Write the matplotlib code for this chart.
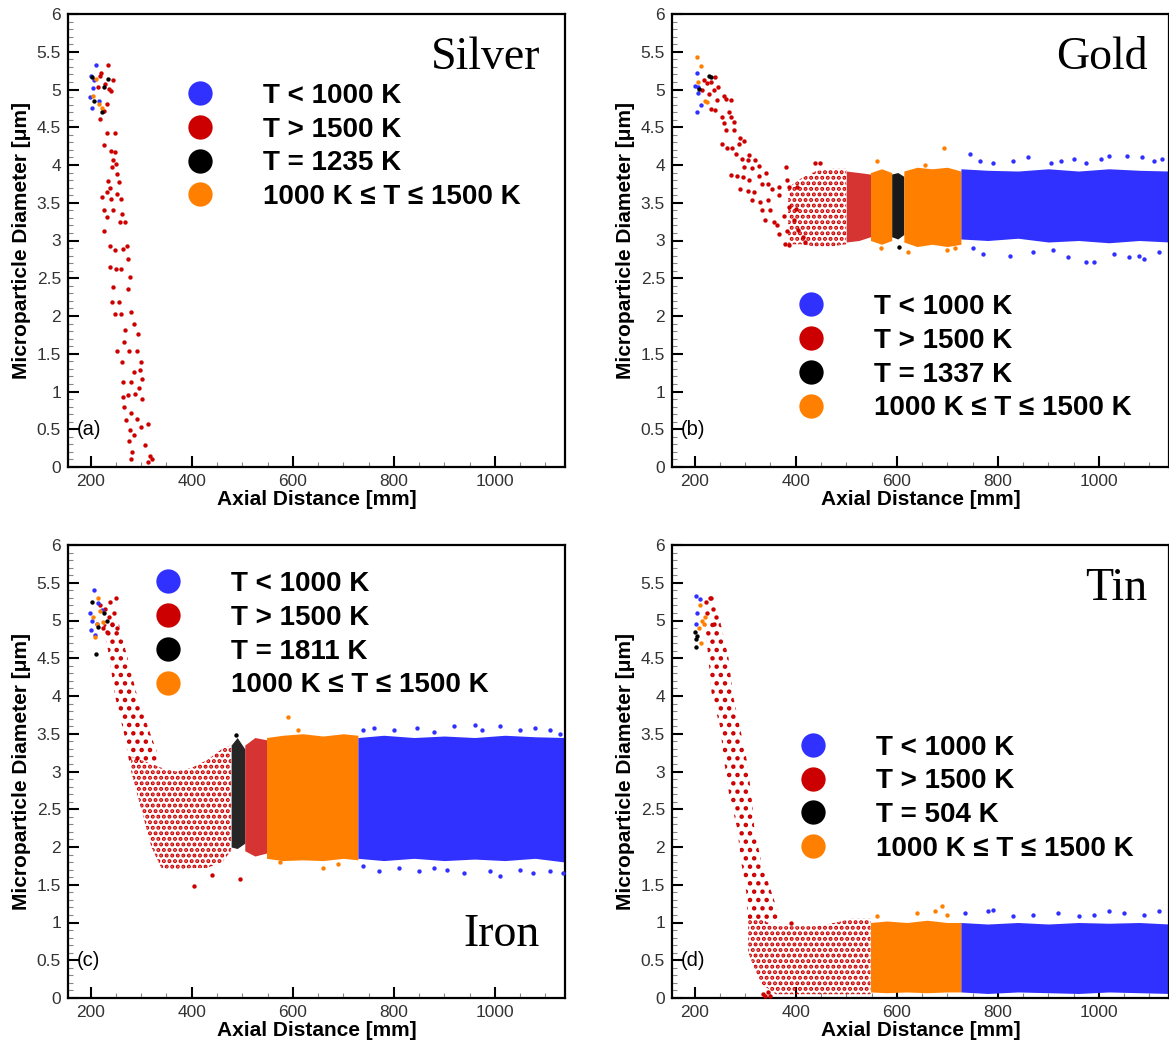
import numpy as np
import matplotlib
matplotlib.use("Agg")
import matplotlib.pyplot as plt
from matplotlib.lines import Line2D
from matplotlib.ticker import MultipleLocator, FuncFormatter

plt.rcParams['font.family'] = ['Liberation Sans', 'DejaVu Sans']
plt.rcParams['hatch.linewidth'] = 2.0

BLUE, RED, BLACK, ORANGE = '#3030ff', '#cc0000', '#000000', '#ff8000'

# ---------------- Silver (a) ----------------
SILVER_BLUE_X = [200, 211, 198, 202, 207, 204, 216]
SILVER_BLUE_Y = [5.18, 5.33, 4.90, 4.76, 5.12, 5.02, 4.85]
SILVER_BLACK_X = [202, 222, 235, 227, 207]
SILVER_BLACK_Y = [5.16, 4.70, 5.14, 5.03, 4.85]
SILVER_ORANGE_X = [211, 204, 216, 222]
SILVER_ORANGE_Y = [5.14, 4.92, 4.81, 4.76]
SILVER_RED_X = [218, 237, 226, 218, 235, 240, 233, 215, 228, 244, 221,
                232, 248, 227, 241, 248, 244, 250, 242, 252, 235,
                239, 256, 233, 252, 240, 259, 222, 226, 244, 262,
                232, 257, 268, 226, 239, 272, 249, 264, 238, 250,
                260, 274, 277, 244, 274, 243, 255, 248, 259, 279,
                268, 285, 294, 252, 266, 275, 292, 262, 299, 285,
                297, 263, 279, 301, 296, 263, 274, 288, 302, 266,
                279, 270, 292, 314, 299, 277, 286, 276, 307, 281,
                279, 318, 321, 314]
SILVER_RED_Y = [5.18, 5.01, 4.72, 4.61, 5.32, 4.98, 4.81, 5.03, 5.07, 5.12, 5.22,
                4.43, 4.43, 4.26, 4.19, 4.17, 4.06, 4.01, 3.97, 3.88, 3.79,
                3.70, 3.77, 3.64, 3.62, 3.55, 3.55, 3.57, 3.40, 3.40, 3.35,
                3.31, 3.24, 3.24, 3.13, 2.93, 2.93, 2.87, 2.89, 2.65, 2.62,
                2.62, 2.76, 2.51, 2.38, 2.36, 2.18, 2.18, 2.03, 2.03, 2.05,
                1.81, 1.90, 1.76, 1.54, 1.65, 1.54, 1.54, 1.39, 1.39, 1.26,
                1.28, 1.12, 1.12, 1.17, 1.04, 0.93, 0.95, 0.97, 0.90, 0.79,
                0.71, 0.62, 0.64, 0.57, 0.53, 0.49, 0.42, 0.35, 0.29, 0.20,
                0.11, 0.15, 0.11, 0.07]

# ---------------- Gold (b) ----------------
GOLD_BLUE_PTS_X = [204, 201, 206, 206, 213, 204,
                   745, 765, 790, 830, 860, 905, 925, 950, 975, 1005, 1020, 1055, 1085, 1110, 1125,
                   750, 770, 825, 870, 910, 940, 975, 990, 1030, 1060, 1080, 1090, 1120]
GOLD_BLUE_PTS_Y = [5.22, 5.05, 5.03, 4.95, 4.80, 4.70,
                   4.15, 4.05, 4.02, 4.05, 4.10, 4.02, 4.05, 4.08, 4.02, 4.08, 4.12, 4.12, 4.10, 4.05, 4.08,
                   2.90, 2.82, 2.80, 2.85, 2.88, 2.78, 2.72, 2.72, 2.82, 2.78, 2.80, 2.75, 2.85]
GOLD_ORANGE_PTS_X = [204, 213, 206, 221, 224, 560, 568, 655, 693, 622, 700, 715]
GOLD_ORANGE_PTS_Y = [5.43, 5.31, 5.10, 4.85, 4.83, 4.05, 2.90, 4.00, 4.22, 2.85, 2.88, 2.90]
GOLD_BLACK_PTS_X = [228, 233, 209, 605]
GOLD_BLACK_PTS_Y = [5.18, 5.17, 5.01, 2.92]
GOLD_RED_X = [218, 224, 233, 240, 214, 228, 238, 247, 257, 244,
              233, 241, 261, 271, 267, 254, 271, 277, 257, 261,
              277, 290, 297, 254, 264, 274, 287, 282, 307, 294,
              306, 320, 297, 313, 328, 342, 271, 284, 295, 308,
              328, 333, 346, 290, 306, 317, 353, 366, 381, 366,
              313, 330, 345, 350, 333, 383, 386, 340, 356, 363,
              376, 386, 366, 383, 379, 386, 396, 405, 401, 414,
              419, 403, 439, 449]
GOLD_RED_Y = [5.12, 5.08, 5.10, 5.16, 4.99, 4.94, 4.99, 5.03, 4.92, 4.86,
              4.74, 4.73, 4.88, 4.86, 4.70, 4.63, 4.63, 4.57, 4.56, 4.46,
              4.47, 4.36, 4.32, 4.28, 4.22, 4.22, 4.28, 4.15, 4.13, 4.08,
              4.06, 4.07, 3.97, 3.96, 3.99, 3.89, 3.87, 3.85, 3.84, 3.80,
              3.86, 3.75, 3.75, 3.68, 3.66, 3.64, 3.68, 3.71, 3.98, 3.60,
              3.54, 3.51, 3.53, 3.40, 3.40, 3.80, 3.71, 3.27, 3.24, 3.20,
              3.32, 3.44, 3.09, 3.13, 2.95, 2.94, 3.27, 3.14, 3.42, 3.05,
              2.98, 3.71, 4.03, 4.03]
GOLD_RED_CLOUD_X = [385, 410, 440, 470, 500]
GOLD_RED_CLOUD_LO = [2.95, 2.95, 2.92, 2.92, 2.95]
GOLD_RED_CLOUD_HI = [3.70, 3.82, 3.92, 3.95, 3.95]
GOLD_RED_DENSE_X = [500, 525, 548]
GOLD_RED_DENSE_LO = [2.98, 3.00, 3.05]
GOLD_RED_DENSE_HI = [3.92, 3.90, 3.88]
GOLD_ORANGE1_X = [548, 570, 590]
GOLD_ORANGE1_LO = [3.00, 2.95, 3.00]
GOLD_ORANGE1_HI = [3.90, 3.95, 3.90]
GOLD_BLACK_X = [590, 602, 614]
GOLD_BLACK_LO = [3.05, 3.02, 3.08]
GOLD_BLACK_HI = [3.88, 3.90, 3.85]
GOLD_ORANGE2_X = [614, 640, 670, 700, 727]
GOLD_ORANGE2_LO = [2.98, 2.92, 2.95, 2.92, 2.95]
GOLD_ORANGE2_HI = [3.92, 3.97, 3.95, 3.97, 3.92]
GOLD_BLUE_X = [727, 780, 840, 900, 960, 1020, 1080, 1140]
GOLD_BLUE_LO = [3.02, 3.00, 3.03, 2.98, 3.00, 2.97, 3.00, 2.98]
GOLD_BLUE_HI = [3.95, 3.93, 3.92, 3.95, 3.92, 3.95, 3.93, 3.92]

# ---------------- Iron (c) ----------------
IRON_BLUE_PTS_X = [207, 203, 200, 209, 222, 215, 198, 212,
                   740, 760, 800, 845, 880, 920, 960, 975, 1010, 1050, 1080, 1110, 1130,
                   740, 770, 810, 850, 880, 905, 940, 990, 1010, 1050, 1075, 1110, 1135]
IRON_BLUE_PTS_Y = [5.40, 5.00, 4.87, 4.81, 5.14, 5.23, 5.10, 4.95,
                   3.55, 3.58, 3.55, 3.58, 3.52, 3.60, 3.62, 3.55, 3.60, 3.55, 3.57, 3.55, 3.50,
                   1.75, 1.68, 1.72, 1.68, 1.72, 1.70, 1.65, 1.68, 1.62, 1.70, 1.66, 1.68, 1.65]
IRON_ORANGE_PTS_X = [205, 212, 218, 208, 225, 214, 590, 660, 575, 610, 690]
IRON_ORANGE_PTS_Y = [5.05, 4.95, 5.12, 4.78, 4.98, 5.30, 3.72, 1.72, 1.80, 3.55, 1.78]
IRON_BLACK_PTS_X = [203, 226, 232, 214, 210, 488]
IRON_BLACK_PTS_Y = [5.25, 5.10, 5.00, 4.92, 4.55, 3.48]
IRON_RED_PTS_X = [218, 228, 236, 242, 232, 224, 246, 250, 238, 252, 405, 495, 441]
IRON_RED_PTS_Y = [5.20, 5.15, 5.05, 4.95, 4.85, 4.90, 5.10, 5.30, 5.25, 4.90, 1.48, 1.57, 1.63]
IRON_DESC_Y = [4.95, 4.50, 4.00, 3.50, 3.10]
IRON_DESC_XL = [225, 237, 248, 266, 277]
IRON_DESC_XR = [256, 273, 292, 318, 340]
IRON_RED_CLOUD_X = [280, 300, 320, 340, 370, 400, 430, 460, 478]
IRON_RED_CLOUD_LO = [3.00, 2.50, 2.00, 1.72, 1.70, 1.72, 1.72, 1.80, 1.95]
IRON_RED_CLOUD_HI = [3.20, 3.15, 3.10, 3.05, 3.00, 3.05, 3.15, 3.30, 3.35]
IRON_BLACK_X = [478, 490, 505]
IRON_BLACK_LO = [2.00, 1.98, 2.05]
IRON_BLACK_HI = [3.35, 3.45, 3.30]
IRON_RED_DENSE_X = [505, 525, 548]
IRON_RED_DENSE_LO = [1.95, 1.88, 1.92]
IRON_RED_DENSE_HI = [3.35, 3.45, 3.42]
IRON_ORANGE_X = [548, 580, 620, 660, 700, 729]
IRON_ORANGE_LO = [1.85, 1.82, 1.83, 1.82, 1.85, 1.83]
IRON_ORANGE_HI = [3.45, 3.48, 3.50, 3.47, 3.50, 3.48]
IRON_BLUE_X = [729, 780, 840, 900, 960, 1020, 1080, 1140]
IRON_BLUE_LO = [1.85, 1.82, 1.85, 1.82, 1.84, 1.82, 1.85, 1.80]
IRON_BLUE_HI = [3.45, 3.48, 3.45, 3.47, 3.45, 3.48, 3.46, 3.45]

# ---------------- Tin (d) ----------------
TIN_BLUE_PTS_X = [202, 205, 210, 203,
                  735, 780, 790, 830, 870, 920, 960, 990, 1020, 1050, 1090, 1120]
TIN_BLUE_PTS_Y = [5.33, 5.10, 5.28, 4.95,
                  1.12, 1.15, 1.17, 1.08, 1.10, 1.12, 1.08, 1.10, 1.15, 1.12, 1.10, 1.15]
TIN_ORANGE_PTS_X = [210, 215, 220, 208, 218, 212, 560, 640, 690, 700, 675]
TIN_ORANGE_PTS_Y = [5.20, 5.00, 5.05, 4.90, 4.95, 4.70, 1.08, 1.12, 1.22, 1.10, 1.15]
TIN_BLACK_PTS_X = [201, 202, 203, 205]
TIN_BLACK_PTS_Y = [4.85, 4.75, 4.65, 4.80]
TIN_RED_PTS_X = [222, 230, 236, 242, 225, 238, 232, 340, 345, 350, 335, 390]
TIN_RED_PTS_Y = [5.25, 5.30, 5.15, 5.05, 5.10, 4.95, 5.30, 0.03, 0.08, 0.02, 0.05, 1.00]
TIN_DESC_Y = [5.00, 4.50, 4.00, 3.60, 3.15, 2.70, 2.25, 1.80, 1.40, 1.00]
TIN_DESC_XL = [220, 227, 234, 250, 258, 268, 284, 292, 302, 306]
TIN_DESC_XR = [250, 267, 276, 289, 303, 312, 318, 332, 352, 372]
TIN_RED_CLOUD_X = [306, 330, 360, 400, 440, 480, 510, 548]
TIN_RED_CLOUD_LO = [0.60, 0.20, 0.05, 0.05, 0.05, 0.05, 0.05, 0.05]
TIN_RED_CLOUD_HI = [1.05, 1.05, 0.95, 0.95, 0.95, 1.00, 1.05, 1.05]
TIN_ORANGE_X = [548, 580, 620, 660, 700, 727]
TIN_ORANGE_LO = [0.08, 0.07, 0.08, 0.07, 0.08, 0.08]
TIN_ORANGE_HI = [1.00, 1.02, 1.00, 1.03, 1.00, 1.00]
TIN_BLUE_X = [727, 780, 840, 900, 960, 1020, 1080, 1140]
TIN_BLUE_LO = [0.08, 0.06, 0.08, 0.07, 0.06, 0.08, 0.07, 0.06]
TIN_BLUE_HI = [1.00, 0.98, 1.00, 0.98, 1.00, 0.99, 1.00, 0.98]

LEGEND_COMMON = ['T < 1000 K', 'T > 1500 K', None, '1000 K \u2264 T \u2264 1500 K']
MELT_LABELS = {'a': 'T = 1235 K', 'b': 'T = 1337 K', 'c': 'T = 1811 K', 'd': 'T = 504 K'}

W, H = 1169, 1045


def rect(l, t, r, b):
    return [l / W, 1 - b / H, (r - l) / W, (b - t) / H]


def dots(ax, x, y, color):
    ax.scatter(x, y, s=10, color=color, linewidths=0, zorder=3)


def cloud(ax, x, lo, hi, color, hatch=None, alpha=1.0):
    if hatch is None:
        ax.fill_between(x, lo, hi, color=color, alpha=alpha, lw=0, zorder=2)
    else:
        ax.fill_between(x, lo, hi, facecolor='none', edgecolor=color, hatch=hatch, lw=0, zorder=2)


def band(ax, y, xl, xr, color, hatch):
    ax.fill_betweenx(y, xl, xr, facecolor='none', edgecolor=color, hatch=hatch, lw=0, zorder=2)


def setup(ax, tag, name, name_pos):
    ax.set_xlim(155, 1139)
    ax.set_ylim(0, 6)
    ax.xaxis.set_major_locator(MultipleLocator(200))
    ax.xaxis.set_minor_locator(MultipleLocator(50))
    ax.yaxis.set_major_locator(MultipleLocator(0.5))
    ax.yaxis.set_minor_locator(MultipleLocator(0.1))
    ax.yaxis.set_major_formatter(FuncFormatter(lambda v, p: f"{v:g}"))
    ax.tick_params(which='both', direction='in', top=False, right=False,
                   labelsize=12.5, labelcolor='#333333')
    ax.tick_params(which='major', length=8, width=1.5, pad=5)
    ax.tick_params(which='minor', length=3.8, width=0.8, color='#888888')
    for s in ax.spines.values():
        s.set_linewidth(1.6)
    ax.set_xlabel('Axial Distance [mm]', fontsize=15, fontweight='bold', labelpad=1)
    ax.set_ylabel('Microparticle Diameter [\u03bcm]', fontsize=15, fontweight='bold', labelpad=4)
    ax.text(0.018, 0.5, f'({tag})', transform=ax.get_yaxis_transform(),
            va='center', ha='left', fontsize=14.5, zorder=5)
    ax.text(name_pos[0], name_pos[1], name, transform=ax.transAxes, ha='right',
            va='baseline', family='Liberation Serif', fontsize=33)


def add_legend(ax, tag, anchor):
    labels = list(LEGEND_COMMON)
    labels[2] = MELT_LABELS[tag]
    handles = [Line2D([], [], ls='', marker='o', ms=17.5, color=c, mec='none')
               for c in (BLUE, RED, BLACK, ORANGE)]
    ax.legend(handles, labels, loc='upper left', bbox_to_anchor=anchor, frameon=False,
              borderpad=0, borderaxespad=0, handlelength=1.0, handletextpad=1.77,
              labelspacing=0.28, prop={'weight': 'bold', 'size': 20})


fig = plt.figure(figsize=(W / 100, H / 100), dpi=100)
ax_a = fig.add_axes(rect(68, 14, 565, 467))
ax_b = fig.add_axes(rect(672, 14, 1169, 467))
ax_c = fig.add_axes(rect(68, 545, 565, 998))
ax_d = fig.add_axes(rect(672, 545, 1169, 998))

# (a) Silver
dots(ax_a, SILVER_RED_X, SILVER_RED_Y, RED)
dots(ax_a, SILVER_BLUE_X, SILVER_BLUE_Y, BLUE)
dots(ax_a, SILVER_ORANGE_X, SILVER_ORANGE_Y, ORANGE)
dots(ax_a, SILVER_BLACK_X, SILVER_BLACK_Y, BLACK)
setup(ax_a, 'a', 'Silver', (0.95, 0.878))
add_legend(ax_a, 'a', (0.2376, 0.848))

# (b) Gold
cloud(ax_b, GOLD_RED_CLOUD_X, GOLD_RED_CLOUD_LO, GOLD_RED_CLOUD_HI, RED, '...')
cloud(ax_b, GOLD_RED_DENSE_X, GOLD_RED_DENSE_LO, GOLD_RED_DENSE_HI, RED, alpha=0.8)
cloud(ax_b, GOLD_ORANGE1_X, GOLD_ORANGE1_LO, GOLD_ORANGE1_HI, ORANGE)
cloud(ax_b, GOLD_BLACK_X, GOLD_BLACK_LO, GOLD_BLACK_HI, BLACK, alpha=0.9)
cloud(ax_b, GOLD_ORANGE2_X, GOLD_ORANGE2_LO, GOLD_ORANGE2_HI, ORANGE)
cloud(ax_b, GOLD_BLUE_X, GOLD_BLUE_LO, GOLD_BLUE_HI, BLUE)
dots(ax_b, GOLD_RED_X, GOLD_RED_Y, RED)
dots(ax_b, GOLD_BLUE_PTS_X, GOLD_BLUE_PTS_Y, BLUE)
dots(ax_b, GOLD_ORANGE_PTS_X, GOLD_ORANGE_PTS_Y, ORANGE)
dots(ax_b, GOLD_BLACK_PTS_X, GOLD_BLACK_PTS_Y, BLACK)
setup(ax_b, 'b', 'Gold', (0.956, 0.878))
add_legend(ax_b, 'b', (0.2515, 0.382))

# (c) Iron
band(ax_c, IRON_DESC_Y, IRON_DESC_XL, IRON_DESC_XR, RED, '..')
cloud(ax_c, IRON_RED_CLOUD_X, IRON_RED_CLOUD_LO, IRON_RED_CLOUD_HI, RED, '...')
cloud(ax_c, IRON_BLACK_X, IRON_BLACK_LO, IRON_BLACK_HI, BLACK, alpha=0.85)
cloud(ax_c, IRON_RED_DENSE_X, IRON_RED_DENSE_LO, IRON_RED_DENSE_HI, RED, alpha=0.8)
cloud(ax_c, IRON_ORANGE_X, IRON_ORANGE_LO, IRON_ORANGE_HI, ORANGE)
cloud(ax_c, IRON_BLUE_X, IRON_BLUE_LO, IRON_BLUE_HI, BLUE)
dots(ax_c, IRON_RED_PTS_X, IRON_RED_PTS_Y, RED)
dots(ax_c, IRON_BLUE_PTS_X, IRON_BLUE_PTS_Y, BLUE)
dots(ax_c, IRON_ORANGE_PTS_X, IRON_ORANGE_PTS_Y, ORANGE)
dots(ax_c, IRON_BLACK_PTS_X, IRON_BLACK_PTS_Y, BLACK)
setup(ax_c, 'c', 'Iron', (0.95, 0.115))
add_legend(ax_c, 'c', (0.173, 0.9426))

# (d) Tin
band(ax_d, TIN_DESC_Y, TIN_DESC_XL, TIN_DESC_XR, RED, '..')
cloud(ax_d, TIN_RED_CLOUD_X, TIN_RED_CLOUD_LO, TIN_RED_CLOUD_HI, RED, '...')
cloud(ax_d, TIN_ORANGE_X, TIN_ORANGE_LO, TIN_ORANGE_HI, ORANGE)
cloud(ax_d, TIN_BLUE_X, TIN_BLUE_LO, TIN_BLUE_HI, BLUE)
dots(ax_d, TIN_RED_PTS_X, TIN_RED_PTS_Y, RED)
dots(ax_d, TIN_BLUE_PTS_X, TIN_BLUE_PTS_Y, BLUE)
dots(ax_d, TIN_ORANGE_PTS_X, TIN_ORANGE_PTS_Y, ORANGE)
dots(ax_d, TIN_BLACK_PTS_X, TIN_BLACK_PTS_Y, BLACK)
setup(ax_d, 'd', 'Tin', (0.956, 0.879))
add_legend(ax_d, 'd', (0.256, 0.5815))

fig.savefig('out.png', dpi=100)
